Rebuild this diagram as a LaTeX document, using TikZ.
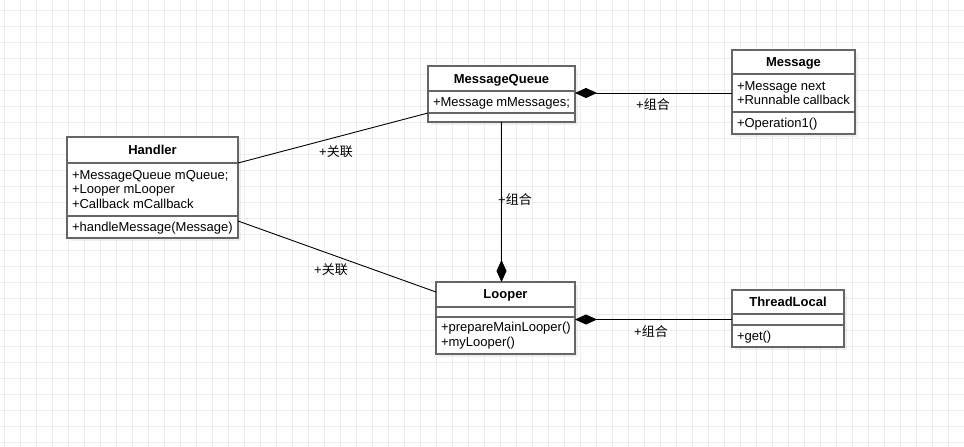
\documentclass[tikz,border=0pt]{standalone}
\usepackage{fontspec}
\setmainfont{Liberation Sans}
\newfontfamily\cjk{Noto Sans CJK SC}
\usepackage{tikz}
\usetikzlibrary{positioning, arrows.meta, shadows}
\usepackage{xcolor}
\definecolor{boxgray}{HTML}{666666}
\definecolor{gridgray}{HTML}{EDEDED}
\hyphenpenalty=10000
\exhyphenpenalty=10000

\tikzset{
  gridline/.style={gridgray, line width=0.8pt},
  part/.style={draw=boxgray, fill=white, line width=1.3pt, outer sep=0pt,
    inner xsep=5pt, inner ysep=0pt, minimum width=#1, text width=#1-10pt,
    align=flush left, font=\fontsize{13}{14.5}\selectfont,
    drop shadow={shadow xshift=3pt, shadow yshift=-3pt, fill=black, opacity=0.06}},
  oneline/.style={part=#1, text depth=0pt},
  head/.style={oneline=#1, align=flush center, font=\fontsize{13}{15}\selectfont\bfseries},
  assoc/.style={black, line width=0.9pt},
  comp/.style={black, line width=0.9pt, -{Diamond[length=22pt, width=10pt]}},
  lbl/.style={inner sep=0pt, font=\fontsize{13}{15}\selectfont}
}

\begin{document}
\begin{tikzpicture}[x=1pt, y=-1pt]
    \useasboundingbox (0,0) rectangle (964,447);
    \fill[white] (0,0) rectangle (964,447);
    % background grid
    \foreach \gx in {4,20,...,964} {
        \draw[gridline] (\gx,0) -- (\gx,447);
    }
    \foreach \gy in {10,26,...,447} {
        \draw[gridline] (0,\gy) -- (964,\gy);
    }

    % classes
    \node[head=147, minimum height=25, anchor=north west] (mq) at (428,66) {MessageQueue};
    \node[oneline=147, minimum height=22, below=0pt of mq] (mq-a) {+Message~mMessages;};
    \node[part=147, minimum height=9, below=0pt of mq-a] (mq-o) {};

    \node[head=123, minimum height=24, anchor=north west] (msg) at (732,50) {Message};
    \node[part=123, minimum height=38, below=0pt of msg] (msg-a) {+Message~next\\+Runnable~callback};
    \node[oneline=123, minimum height=22, below=0pt of msg-a] (msg-o) {+Operation1()};

    \node[head=171, minimum height=26, anchor=north west] (h) at (67,137) {Handler};
    \node[part=171, minimum height=53, below=0pt of h] (h-a) {+MessageQueue~mQueue;\\+Looper~mLooper\\+Callback~mCallback};
    \node[oneline=171, minimum height=22, below=0pt of h-a] (h-o) {+handleMessage(Message)};

    \node[head=139, minimum height=25, anchor=north west] (lp) at (436,282) {Looper};
    \node[part=139, minimum height=10, below=0pt of lp] (lp-a) {};
    \node[part=139, minimum height=37, below=0pt of lp-a] (lp-o) {+prepareMainLooper()\\+myLooper()};

    \node[head=112, minimum height=24, anchor=north west] (tl) at (732,290) {ThreadLocal};
    \node[part=112, minimum height=11, below=0pt of tl] (tl-a) {};
    \node[oneline=112, minimum height=22, below=0pt of tl-a] (tl-o) {+get()};

    % relations
    \draw[assoc] (h.south east) -- (mq-a.south west);
    \draw[assoc] ([yshift=-5pt]h-o.north east) -- ([yshift=2.5pt]lp.west);
    \draw[comp] (msg-a.west) -- (msg-a.west -| mq.east);
    \draw[comp] (mq-o.south) -- (mq-o.south |- lp.north);
    \draw[comp] (tl-a.west) -- (tl-a.west -| lp.east);

    \node[lbl, anchor=west] (c1) at (636,105) {+{\cjk 组合}};
    \node[lbl, anchor=west] (c2) at (498,200) {+{\cjk 组合}};
    \node[lbl, anchor=west] (c3) at (634,332) {+{\cjk 组合}};
    \node[lbl, anchor=west] (a1) at (319,152) {+{\cjk 关联}};
    \node[lbl, anchor=west] (a2) at (314,270) {+{\cjk 关联}};
\end{tikzpicture}
\end{document}
